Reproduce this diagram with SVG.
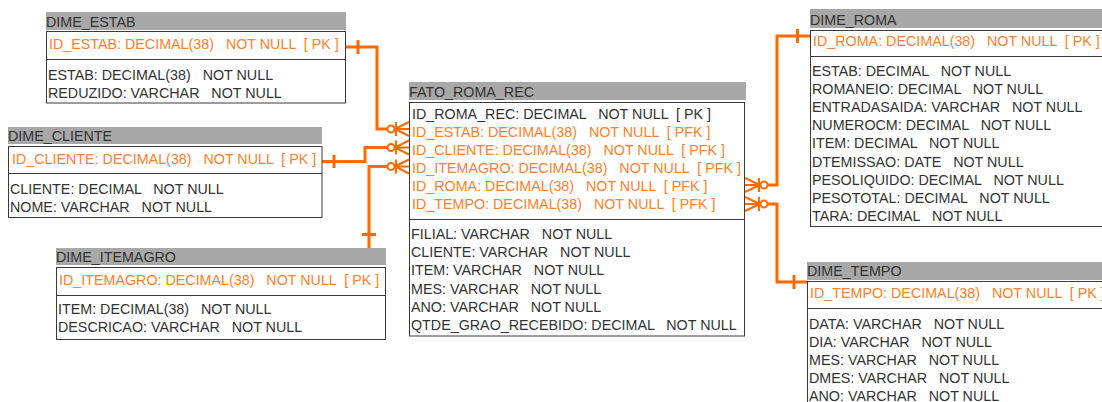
<svg xmlns="http://www.w3.org/2000/svg" width="1102" height="402" viewBox="0 0 1102 402" xml:space="preserve">
<style>
text{font-family:"Liberation Sans",Arial,sans-serif;font-size:14.3px;fill:#333;white-space:pre}
.k{fill:#ff7f2a}
.hd{fill:#a8a8a8}
.bx{fill:#fff;stroke:#3a3a3a;stroke-width:1}
.dv{stroke:#3a3a3a;stroke-width:1}
.c{fill:none;stroke:#ff6a00;stroke-width:3}
.f{fill:none;stroke:#ff6a00;stroke-width:2}
.o{fill:#fff;stroke:#ff6a00;stroke-width:2}
</style>
<rect width="1102" height="402" fill="#fff"/>
<g id="connectors">
<path class="c" d="M345,47 H377 V129 H395"/>
<path class="c" d="M358,40 V54"/>
<path class="f" d="M395,129 L409,122 M395,129 L409,129 M395,129 L409,136 M396,122 V136"/>
<circle class="o" cx="391" cy="129" r="3.5"/>
<path class="c" d="M322,161.5 H365 V147.5 H395"/>
<path class="c" d="M334,155 V168"/>
<path class="f" d="M395,147.5 L409,140.5 M395,147.5 L409,147.5 M395,147.5 L409,154.5 M396,140.5 V154.5"/>
<circle class="o" cx="391" cy="147.5" r="3.5"/>
<path class="c" d="M369,248 V166.5 H395"/>
<path class="c" d="M362,234.5 H376"/>
<path class="f" d="M395,166.5 L409,159.5 M395,166.5 L409,166.5 M395,166.5 L409,173.5 M396,159.5 V173.5"/>
<circle class="o" cx="391" cy="166.5" r="3.5"/>
<path class="c" d="M760,185 H777 V36 H810"/>
<path class="c" d="M797.5,29 V43"/>
<path class="f" d="M745,178 L760,185 M745,185 L760,185 M745,192 L760,185 M759,178 V192"/>
<circle class="o" cx="764" cy="185" r="3.5"/>
<path class="c" d="M760,204 H777 V282 H807"/>
<path class="c" d="M794,275 V289"/>
<path class="f" d="M745,197 L760,204 M745,204 L760,204 M745,211 L760,204 M759,197 V211"/>
<circle class="o" cx="764" cy="204" r="3.5"/>
</g>
<g id="dime_estab">
<rect class="hd" x="46" y="12" width="300" height="18"/>
<text x="46" y="27">DIME_ESTAB</text>
<rect class="bx" x="46.5" y="31.5" width="299" height="71.5"/>
<line class="dv" x1="46.5" y1="59.5" x2="345.5" y2="59.5"/>
<text class="k" x="49" y="49">ID_ESTAB: DECIMAL(38)   NOT NULL  [ PK ]</text>
<text x="48" y="80">ESTAB: DECIMAL(38)   NOT NULL</text>
<text x="48" y="98">REDUZIDO: VARCHAR   NOT NULL</text>
</g>
<g id="dime_cliente">
<rect class="hd" x="8" y="127" width="314" height="17"/>
<text x="8" y="141">DIME_CLIENTE</text>
<rect class="bx" x="8.5" y="146.5" width="313.5" height="71"/>
<line class="dv" x1="8.5" y1="173.5" x2="322" y2="173.5"/>
<text class="k" x="12" y="163.5">ID_CLIENTE: DECIMAL(38)   NOT NULL  [ PK ]</text>
<text x="10" y="193.5">CLIENTE: DECIMAL   NOT NULL</text>
<text x="10" y="211.5">NOME: VARCHAR   NOT NULL</text>
</g>
<g id="dime_itemagro">
<rect class="hd" x="56" y="248" width="330" height="17"/>
<text x="56" y="262">DIME_ITEMAGRO</text>
<rect class="bx" x="56.5" y="267.5" width="329" height="72"/>
<line class="dv" x1="56.5" y1="295.5" x2="385.5" y2="295.5"/>
<text class="k" x="59" y="284.5">ID_ITEMAGRO: DECIMAL(38)   NOT NULL  [ PK ]</text>
<text x="58" y="313.5">ITEM: DECIMAL(38)   NOT NULL</text>
<text x="58" y="331.5">DESCRICAO: VARCHAR   NOT NULL</text>
</g>
<g id="fato_roma_rec">
<rect class="hd" x="409" y="82" width="337" height="18"/>
<text x="409" y="97">FATO_ROMA_REC</text>
<rect class="bx" x="409.5" y="102.5" width="335" height="233.5"/>
<line class="dv" x1="409.5" y1="219.5" x2="744.5" y2="219.5"/>
<text x="412" y="118.5">ID_ROMA_REC: DECIMAL   NOT NULL  [ PK ]</text>
<text class="k" x="412" y="136.5">ID_ESTAB: DECIMAL(38)   NOT NULL  [ PFK ]</text>
<text class="k" x="412" y="155">ID_CLIENTE: DECIMAL(38)   NOT NULL  [ PFK ]</text>
<text class="k" x="412" y="173">ID_ITEMAGRO: DECIMAL(38)   NOT NULL  [ PFK ]</text>
<text class="k" x="412" y="191">ID_ROMA: DECIMAL(38)   NOT NULL  [ PFK ]</text>
<text class="k" x="412" y="209">ID_TEMPO: DECIMAL(38)   NOT NULL  [ PFK ]</text>
<text x="411" y="238.5">FILIAL: VARCHAR   NOT NULL</text>
<text x="411" y="256.5">CLIENTE: VARCHAR   NOT NULL</text>
<text x="411" y="275">ITEM: VARCHAR   NOT NULL</text>
<text x="411" y="293.5">MES: VARCHAR   NOT NULL</text>
<text x="411" y="311.5">ANO: VARCHAR   NOT NULL</text>
<text x="411" y="329.5">QTDE_GRAO_RECEBIDO: DECIMAL   NOT NULL</text>
</g>
<g id="dime_roma">
<rect class="hd" x="810" y="9" width="300" height="19"/>
<text x="810" y="25">DIME_ROMA</text>
<rect class="bx" x="810.5" y="30.5" width="300" height="196"/>
<line class="dv" x1="810.5" y1="56.5" x2="1110" y2="56.5"/>
<text class="k" x="813" y="46">ID_ROMA: DECIMAL(38)   NOT NULL  [ PK ]</text>
<text x="812" y="76">ESTAB: DECIMAL   NOT NULL</text>
<text x="812" y="94.1">ROMANEIO: DECIMAL   NOT NULL</text>
<text x="812" y="112.2">ENTRADASAIDA: VARCHAR   NOT NULL</text>
<text x="812" y="130.3">NUMEROCM: DECIMAL   NOT NULL</text>
<text x="812" y="148.4">ITEM: DECIMAL   NOT NULL</text>
<text x="812" y="166.5">DTEMISSAO: DATE   NOT NULL</text>
<text x="812" y="184.6">PESOLIQUIDO: DECIMAL   NOT NULL</text>
<text x="812" y="202.7">PESOTOTAL: DECIMAL   NOT NULL</text>
<text x="812" y="220.8">TARA: DECIMAL   NOT NULL</text>
</g>
<g id="dime_tempo">
<rect class="hd" x="807" y="262" width="300" height="18"/>
<text x="807" y="276">DIME_TEMPO</text>
<rect class="bx" x="807.5" y="281.5" width="300" height="130"/>
<line class="dv" x1="807.5" y1="308.5" x2="1107" y2="308.5"/>
<text class="k" x="810" y="298">ID_TEMPO: DECIMAL(38)   NOT NULL  [ PK ]</text>
<text x="809" y="328.5">DATA: VARCHAR   NOT NULL</text>
<text x="809" y="346.5">DIA: VARCHAR   NOT NULL</text>
<text x="809" y="364.5">MES: VARCHAR   NOT NULL</text>
<text x="809" y="382.5">DMES: VARCHAR   NOT NULL</text>
<text x="809" y="400.5">ANO: VARCHAR   NOT NULL</text>
</g>
</svg>
